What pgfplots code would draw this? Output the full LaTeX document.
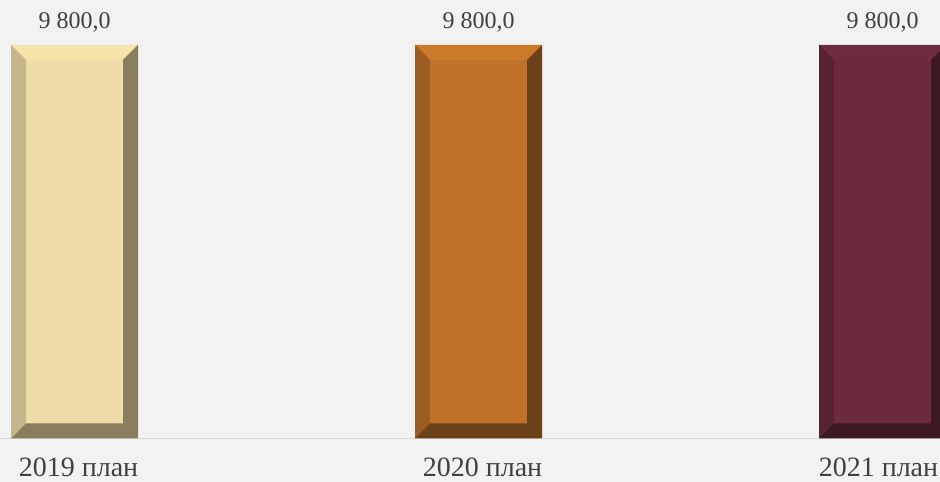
\documentclass[border=0pt]{standalone}
\usepackage{fontspec}
\setmainfont{Liberation Serif}
\usepackage{pgfplots}
\pgfplotsset{compat=1.18}

\definecolor{paper}{HTML}{F2F2F2}
\definecolor{baseline}{HTML}{D9D9D9}
\definecolor{txt}{HTML}{404040}
% face, top, left, right/bottom
\definecolor{aface}{HTML}{F0DCA8}
\definecolor{atop}{HTML}{F6E3AA}
\definecolor{aleft}{HTML}{C6B68B}
\definecolor{adark}{HTML}{887E5E}
\definecolor{bface}{HTML}{C07328}
\definecolor{btop}{HTML}{CB7A2B}
\definecolor{bleft}{HTML}{9B5D21}
\definecolor{bdark}{HTML}{6A4118}
\definecolor{cface}{HTML}{6B2B3D}
\definecolor{ctop}{HTML}{6F2C3F}
\definecolor{cleft}{HTML}{56222F}
\definecolor{cdark}{HTML}{3E1820}

% bevel edges of a 9800 bar: outer left, inner left, inner right, outer right; colours top, left, dark
\newcommand\bevel[7]{%
  \addplot[fill=#5, draw=none, forget plot] coordinates {(#1,9800) (#4,9800) (#3,9426.4) (#2,9426.4)} -- cycle;
  \addplot[fill=#6, draw=none, forget plot] coordinates {(#1,9800) (#2,9426.4) (#2,373.6) (#1,0)} -- cycle;
  \addplot[fill=#7, draw=none, forget plot] coordinates {(#4,9800) (#3,9426.4) (#3,373.6) (#4,0)} -- cycle;
  \addplot[fill=#7, draw=none, forget plot] coordinates {(#1,0) (#4,0) (#3,373.6) (#2,373.6)} -- cycle;
}

\begin{document}
\begin{tikzpicture}
\fill[paper] (0,0) rectangle (940pt,482pt);
\useasboundingbox (0,0) rectangle (940pt,482pt);
\begin{axis}[
    at={(0pt,43.5pt)}, anchor=south west,
    scale only axis,
    width=940pt, height=438.5pt,
    xmin=-0.18441, xmax=2.14233,
    ymin=0, ymax=10920.7,
    axis y line=none,
    axis x line*=bottom,
    x axis line style={draw=baseline, line width=1.5pt, -},
    xtick={0,1,2},
    xticklabels={2019 план, 2020 план, \kern-16pt 2021 план},
    major tick length=0pt,
    xticklabel style={font=\fontsize{28}{32}\selectfont, text=txt, anchor=base, yshift=-38pt, xshift=4pt},
    bar width=127pt, bar shift=0pt,
    every node near coord/.append style={font=\fontsize{24}{28}\selectfont, text=txt, anchor=base, inner sep=0pt, yshift=16pt},
    /pgf/number format/.cd, fixed, fixed zerofill, precision=1, use comma, 1000 sep={\ }, assume math mode=true,
]
\addplot[ybar, fill=aface, draw=none, nodes near coords] coordinates {(0,9800)};
\addplot[ybar, fill=bface, draw=none, nodes near coords] coordinates {(1,9800)};
\addplot[ybar, fill=cface, draw=none, nodes near coords] coordinates {(2,9800)};
\bevel{-0.15718}{-0.12005}{0.12005}{0.15718}{atop}{aleft}{adark}
\bevel{0.84282}{0.87995}{1.12005}{1.15718}{btop}{bleft}{bdark}
\bevel{1.84282}{1.87995}{2.12005}{2.15718}{ctop}{cleft}{cdark}
\end{axis}
\end{tikzpicture}
\end{document}
